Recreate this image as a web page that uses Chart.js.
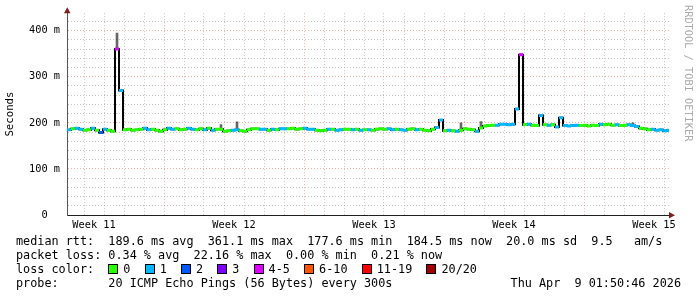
<!DOCTYPE html>
<html>
<head>
<meta charset="utf-8">
<script src="https://cdn.jsdelivr.net/npm/chart.js@4/dist/chart.umd.min.js"></script>
<style>
  body { margin: 0; background: #fff; }
  #wrap { position: relative; width: 697px; height: 297px; overflow: hidden; font-family: "DejaVu Sans Mono", monospace; }
  #chart { position: absolute; left: 0; top: 0; }
  .row { position: absolute; left: 16px; font-size: 11.8px; line-height: 14px; white-space: pre; color: #000; }
  .box { display: inline-block; width: 8px; height: 8px; border: 1px solid #000; vertical-align: -1px; margin-right: 5px; }
  #stamp { position: absolute; right: 16px; top: 276px; font-size: 11.8px; line-height: 14px; white-space: pre; }
  #mark { position: absolute; left: 684px; top: 5px; font-size: 10.3px; line-height: 10px; color: #aaa; writing-mode: vertical-rl; white-space: pre; }
</style>
</head>
<body>
<div id="wrap">
  <canvas id="chart" width="697" height="297"></canvas>
  <div class="row" style="top:234px">median rtt:  189.6 ms avg  361.1 ms max  177.6 ms min  184.5 ms now  20.0 ms sd  9.5   am/s</div>
  <div class="row" style="top:248px">packet loss: 0.34 % avg  22.16 % max  0.00 % min  0.21 % now</div>
  <div class="row" id="lossRow" style="top:262px">loss color:  </div>
  <div class="row" style="top:276px">probe:       20 ICMP Echo Pings (56 Bytes) every 300s</div>
  <div id="stamp">Thu Apr  9 01:50:46 2026</div>
  <div id="mark">RRDTOOL / TOBI OETIKER</div>
</div>
<script>
// loss buckets
const lossLabels = ["0", "1", "2", "3", "4-5", "6-10", "11-19", "20/20"];
const lossColors = ["#26ff00", "#00b8ff", "#0059ff", "#7e00ff", "#dd00ff", "#ff5500", "#ff0000", "#a00000"];

const weekLabels = ["Week 11", "Week 12", "Week 13", "Week 14", "Week 15"];
const firstWeekStart = -2.15;   // days from left edge of graph to monday of week 11
const spanDays = 30.1;
const sampleStep = 0.2;         // days per sample

// median rtt in ms, one value per sample
const medianRtt = [
  185, 187, 188, 186, 184, 185, 188, 184, 179, 186, 184, 182,
  360, 270,
  185, 186, 184, 185, 186, 188, 185, 186, 184, 182, 185, 188, 186, 187, 185, 186, 188, 186, 185, 187, 185, 188, 184, 186,
  186, 182, 183, 184, 185, 183, 182, 185, 187, 187, 186, 186, 184, 186, 185, 187, 187, 187, 188, 186, 187, 188, 186, 186,
  184, 183, 184, 186, 186, 184, 185, 186, 186, 185, 186, 184, 185,
  185, 184, 186, 187, 186, 187, 185, 186, 185, 184, 186, 187, 185, 186, 184, 183, 186, 190, 206, 183, 184, 183, 182, 184,
  187, 186, 185, 182, 189, 193, 194, 195, 195, 197, 197, 196, 197, 230, 348,
  196, 197, 195, 194, 216, 196, 195, 196, 191, 211, 194, 193, 194, 195, 194, 195, 193, 195, 194, 197, 196, 197, 195, 196,
  194, 195, 196, 194, 192, 188, 187, 185, 186, 184, 185, 183, 184
];
// index into lossColors for each sample
const lossBin = [
  1, 0, 1, 1, 0, 0, 1, 0, 2, 1, 0, 0,
  4, 1,
  0, 0, 0, 0, 0, 1, 1, 0, 0, 0, 0, 1, 1, 0, 0, 0, 1, 1, 0, 0, 1, 0, 1, 0,
  0, 0, 0, 1, 1, 0, 0, 0, 0, 0, 1, 1, 0, 1, 0, 1, 1, 0, 0, 0, 0, 1, 1, 1,
  0, 0, 0, 1, 0, 1, 1, 0, 0, 1, 0, 1, 0,
  1, 0, 0, 0, 0, 1, 1, 0, 1, 1, 0, 0, 1, 0, 0, 0, 0, 1, 1, 0, 1, 0, 1, 0,
  0, 0, 0, 1, 0, 0, 0, 0, 1, 1, 1, 1, 1, 1, 4,
  0, 1, 0, 0, 1, 0, 1, 0, 1, 1, 1, 1, 1, 1, 0, 0, 0, 0, 0, 1, 0, 0, 0, 1,
  0, 0, 1, 1, 1, 0, 0, 0, 1, 1, 1, 1, 1
];
// smoke (slowest pings) where it shows above the median
const smokeAt = [12, 38, 42, 98, 103, 135, 141];
const smokeTop = [395, 196, 202, 200, 203, 199, 200];

const gridCol = "rgba(150,150,150,0.55)";
const mgridCol = "rgba(222,79,79,0.45)";

// legend boxes
const lossRow = document.getElementById("lossRow");
lossLabels.forEach((lab, i) => {
  const b = document.createElement("span");
  b.className = "box";
  b.style.background = lossColors[i];
  lossRow.appendChild(b);
  lossRow.appendChild(document.createTextNode(lab + "  "));
});

const times = medianRtt.map((v, i) => sampleStep / 2 + i * sampleStep);
const pts = medianRtt.map((v, i) => ({ x: times[i], y: v }));
const smokePts = smokeAt.map((i, k) => ({ x: times[i], y: [medianRtt[i], smokeTop[k]] }));

const isMajor = v => { const r = ((v - firstWeekStart) % 7 + 7) % 7; return r < 0.01 || r > 6.99; };
const labelFor = v => {
  const k = Math.round((v - firstWeekStart - 3.5) / 7);
  return Math.abs(firstWeekStart + 3.5 + 7 * k - v) < 0.01 ? weekLabels[k] : null;
};

const arrows = {
  id: "arrows",
  afterDraw(chart) {
    const { ctx, chartArea: a } = chart;
    ctx.save();
    ctx.fillStyle = "#801f1f";
    ctx.beginPath();
    ctx.moveTo(a.left - 3, a.top); ctx.lineTo(a.left + 3.5, a.top); ctx.lineTo(a.left + 0.25, a.top - 6);
    ctx.fill();
    ctx.beginPath();
    ctx.moveTo(a.right, a.bottom - 3); ctx.lineTo(a.right, a.bottom + 3.5); ctx.lineTo(a.right + 6, a.bottom + 0.25);
    ctx.fill();
    ctx.restore();
  }
};

const axisFont = { family: "DejaVu Sans Mono", size: 10.3 };

new Chart(document.getElementById("chart"), {
  type: "line",
  data: {
    datasets: [
      {
        type: "bar",
        data: smokePts,
        backgroundColor: smokePts.map(p => (p.y[1] - p.y[0] > 50 ? "rgba(0,0,0,0.14)" : "rgba(0,0,0,0.6)")),
        barThickness: 2,
        order: 3
      },
      {
        data: pts,
        stepped: "middle",
        borderColor: "#000",
        borderWidth: 2,
        pointRadius: 0,
        order: 2
      },
      {
        data: pts,
        showLine: false,
        pointStyle: "line",
        pointRadius: 2,
        pointBorderWidth: 3,
        pointBorderColor: lossBin.map(b => lossColors[b]),
        order: 1
      }
    ]
  },
  options: {
    responsive: false,
    animation: false,
    events: [],
    layout: { padding: { left: 0, right: 28, top: 13, bottom: 0 } },
    plugins: { legend: { display: false }, tooltip: { enabled: false } },
    scales: {
      x: {
        type: "linear",
        min: 0,
        max: spanDays,
        offset: false,
        afterFit(s) { s.height = 82; },
        afterBuildTicks(s) {
          const t = [];
          for (let d = 0.85; d < spanDays; d += 1) t.push({ value: +d.toFixed(2) });
          weekLabels.forEach((w, k) => t.push({ value: +(firstWeekStart + 3.5 + 7 * k).toFixed(2) }));
          t.sort((a, b) => a.value - b.value);
          s.ticks = t;
        },
        ticks: {
          autoSkip: false,
          maxRotation: 0,
          padding: 4,
          color: "#000",
          font: axisFont,
          callback: v => labelFor(v) || ""
        },
        grid: {
          offset: false,
          drawTicks: false,
          color: c => {
            if (!c.tick) return gridCol;
            if (labelFor(c.tick.value)) return "rgba(0,0,0,0)";
            return isMajor(c.tick.value) ? mgridCol : gridCol;
          }
        },
        border: { color: "#1f1f1f", width: 1, dash: [1, 2] }
      },
      y: {
        min: 0,
        max: 438,
        afterFit(s) { s.width = 67; },
        afterBuildTicks(s) {
          const t = [];
          for (let v = 0; v <= 420; v += 20) t.push({ value: v });
          s.ticks = t;
        },
        ticks: {
          autoSkip: false,
          padding: 7,
          color: "#000",
          font: axisFont,
          callback: v => (v % 100 ? "" : (v ? v + " m" : "0  "))
        },
        grid: {
          drawTicks: false,
          color: c => (c.tick && c.tick.value % 100 ? gridCol : mgridCol)
        },
        border: { color: "#555", width: 1, dash: [1, 2] },
        title: {
          display: true,
          text: "Seconds",
          color: "#000",
          font: { family: "DejaVu Sans Mono", size: 10.7 },
          padding: { top: 4, bottom: 0 }
        }
      }
    }
  },
  plugins: [arrows]
});
</script>
</body>
</html>
